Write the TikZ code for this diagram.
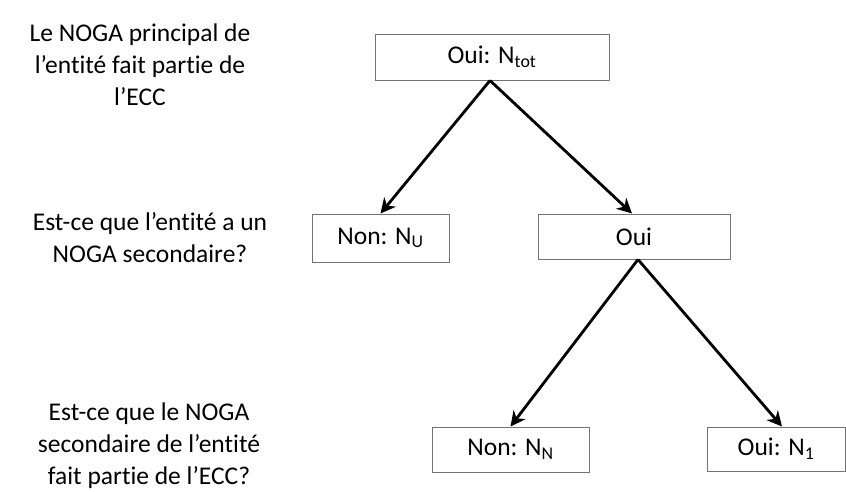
\documentclass[tikz,border=0pt]{standalone}
\usepackage{fontspec}
\setmainfont{Carlito}[Ligatures=NoCommon]
\usetikzlibrary{arrows.meta}
\tikzset{
  box/.style={draw=black!55, line width=1pt, inner sep=0pt, font=\fontsize{25.5}{30}\selectfont},
  lbl/.style={align=center, inner sep=0pt, font=\fontsize{25.5}{32}\selectfont},
  arr/.style={line width=2.8pt, -{Stealth[length=15pt,width=15pt]}}
}
\begin{document}
\begin{tikzpicture}[x=1pt,y=-1pt]
\useasboundingbox (0,0) rectangle (846,491);
\node[lbl] (q1) at (140,65) {Le NOGA principal de\\l’entité fait partie de\\l’ECC};
\node[lbl] (q2) at (150,238) {Est-ce que l’entité a un\\NOGA secondaire?};
\node[lbl] (q3) at (149,446) {Est-ce que le NOGA\\secondaire de l’entité\\fait partie de l’ECC?};
\node[box, minimum width=234, minimum height=46] (top) at (492,57) {Oui: N\textsubscript{tot}};
\node[box, minimum width=137, minimum height=48] (nu) at (380.5,238) {Non: N\textsubscript{U}};
\node[box, minimum width=192, minimum height=45] (oui) at (634,236.5) {Oui};
\node[box, minimum width=157, minimum height=45] (nn) at (510.5,449.5) {Non: N\textsubscript{N}};
\node[box, minimum width=138, minimum height=44] (n1) at (776,449) {Oui: N\textsubscript{1}};
\draw[arr] ([xshift=-2]top.south) -- (nu.north);
\draw[arr] ([xshift=-2]top.south) -- ([xshift=-2]oui.north);
\draw[arr] ([xshift=4]oui.south) -- (nn.north);
\draw[arr] ([xshift=4]oui.south) -- ([xshift=6]n1.north);
\end{tikzpicture}
\end{document}
